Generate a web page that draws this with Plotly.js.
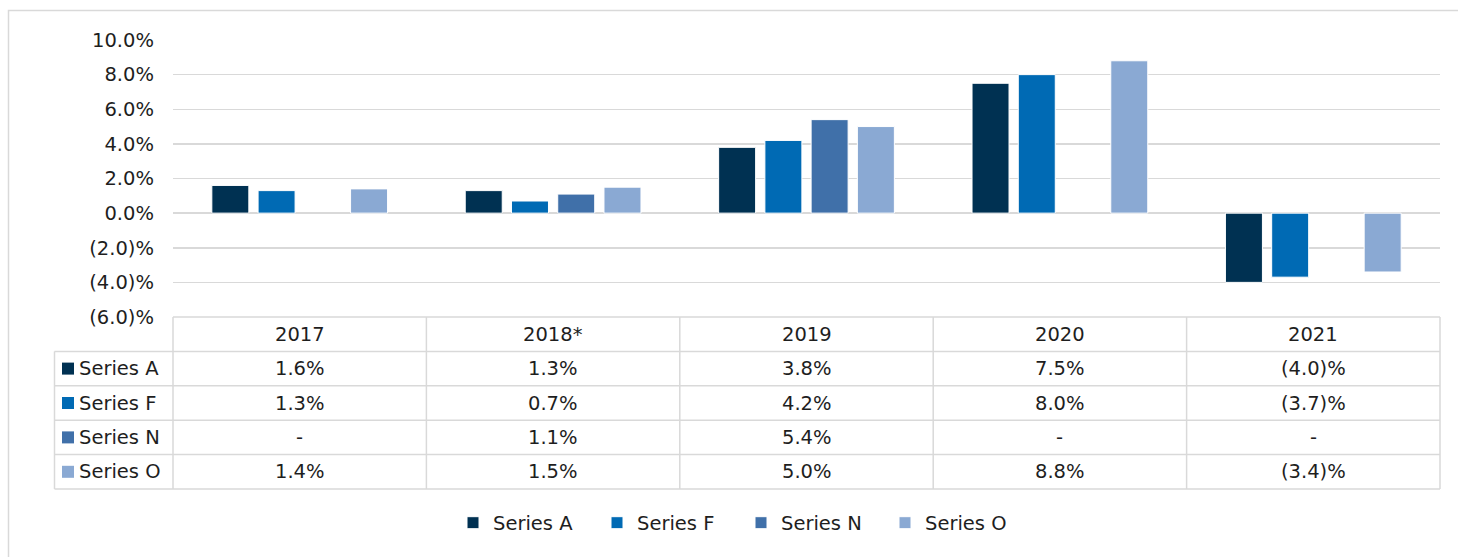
<!DOCTYPE html>
<html>
<head>
<meta charset="utf-8">
<script src="https://cdn.plot.ly/plotly-3.0.1.min.js"></script>
<style>html,body{margin:0;padding:0;background:#fff;}#chart{width:1458px;height:557px;}</style>
</head>
<body>
<div id="chart"></div>
<script>
// ---- data ----
var categories = ['2017', '2018*', '2019', '2020', '2021'];
var seriesNames = ['Series A', 'Series F', 'Series N', 'Series O'];
var seriesA = [1.6, 1.3, 3.8, 7.5, -4.0];
var seriesF = [1.3, 0.7, 4.2, 8.0, -3.7];
var seriesN = [null, 1.1, 5.4, null, null];
var seriesO = [1.4, 1.5, 5.0, 8.8, -3.4];
var yTickVals = [10, 8, 6, 4, 2, 0, -2, -4, -6];
var yTickText = ['10.0%', '8.0%', '6.0%', '4.0%', '2.0%', '0.0%', '(2.0)%', '(4.0)%', '(6.0)%'];

// ---- style ----
var colors = ['#003152', '#006AB4', '#4070A9', '#8AA9D3'];
var FONT = 'DejaVu Sans, sans-serif';
var FS = 19.5;
var TXT = '#1e1e1e';
var GRID = '#d9d9d9';

var allSeries = [seriesA, seriesF, seriesN, seriesO];

function fmt(v) {
  if (v === null || v === undefined) return '-';
  if (v < 0) return '(' + Math.abs(v).toFixed(1) + ')%';
  return v.toFixed(1) + '%';
}

// geometry helpers (pixel -> paper)
var W = 1458, H = 557;
var L = 173, R = 1440, T = 40, B = 317;
function px(x) { return (x - L) / (R - L); }
function py(y) { return (B - y) / (B - T); }

var traces = allSeries.map(function (vals, i) {
  return {
    type: 'bar',
    name: seriesNames[i],
    x: categories,
    y: vals,
    marker: { color: colors[i], line: { color: '#ffffff', width: 1 } },
    hoverinfo: 'skip'
  };
});

var shapes = [];
var annotations = [];

// outer border
shapes.push({ type: 'rect', xref: 'paper', yref: 'paper', x0: px(8.5), x1: px(1470), y0: py(10.5), y1: py(580),
  line: { color: GRID, width: 1.5 }, fillcolor: 'rgba(0,0,0,0)', layer: 'below' });

// data table grid
var rowH = 34.4;
var tableTop = 317;
var labelLeft = 54.5;
var nRows = allSeries.length;
var tableBottom = tableTop + rowH * (nRows + 1);
var colW = (R - L) / categories.length;
function hline(y, x0, x1) {
  shapes.push({ type: 'line', xref: 'paper', yref: 'paper', x0: px(x0), x1: px(x1), y0: py(y), y1: py(y),
    line: { color: GRID, width: 1.5 } });
}
function vline(x, y0, y1) {
  shapes.push({ type: 'line', xref: 'paper', yref: 'paper', x0: px(x), x1: px(x), y0: py(y0), y1: py(y1),
    line: { color: GRID, width: 1.5 } });
}
hline(tableTop, L, R);
for (var r = 1; r <= nRows + 1; r++) hline(tableTop + r * rowH, labelLeft, R);
vline(labelLeft, tableTop + rowH, tableBottom);
for (var c = 0; c <= categories.length; c++) vline(L + c * colW, tableTop, tableBottom);

// header row (x = category index on the category axis)
categories.forEach(function (cat, j) {
  annotations.push({ xref: 'x', yref: 'paper', x: j, y: py(tableTop + rowH / 2), text: cat,
    showarrow: false, xanchor: 'center', yanchor: 'middle', font: { family: FONT, size: FS, color: TXT } });
});
// value rows
allSeries.forEach(function (vals, i) {
  var yc = tableTop + rowH * (i + 1) + rowH / 2;
  shapes.push({ type: 'rect', xref: 'paper', yref: 'paper', x0: px(62), x1: px(74), y0: py(yc - 6), y1: py(yc + 6),
    fillcolor: colors[i], line: { width: 0 } });
  annotations.push({ xref: 'paper', yref: 'paper', x: px(77), y: py(yc), text: seriesNames[i],
    showarrow: false, xanchor: 'left', yanchor: 'middle', font: { family: FONT, size: FS, color: TXT } });
  categories.forEach(function (cat, j) {
    annotations.push({ xref: 'x', yref: 'paper', x: j, y: py(yc), text: fmt(vals[j]),
      showarrow: false, xanchor: 'center', yanchor: 'middle', font: { family: FONT, size: FS, color: TXT } });
  });
});

var layout = {
  width: W, height: H,
  margin: { l: L, r: W - R, t: T, b: H - B, pad: 0 },
  paper_bgcolor: '#ffffff', plot_bgcolor: '#ffffff',
  font: { family: FONT, size: FS, color: TXT },
  barmode: 'group',
  bargap: 0.27,
  bargroupgap: 0.2,
  showlegend: true,
  legend: { orientation: 'h', x: px(453), xanchor: 'left', y: py(523), yanchor: 'middle',
    font: { family: FONT, size: FS, color: TXT }, itemwidth: 30, traceorder: 'normal',
    entrywidth: 99, entrywidthmode: 'pixels' },
  xaxis: { type: 'category', range: [-0.5, categories.length - 0.5], autorange: false,
    showticklabels: false, showgrid: false, zeroline: false, showline: false, ticks: '' },
  yaxis: { range: [-6, 10], autorange: false, tickvals: yTickVals, ticktext: yTickText, showgrid: true, gridcolor: GRID, gridwidth: 1.5,
    zeroline: true, zerolinecolor: GRID, zerolinewidth: 1.5, showline: false, ticks: '', ticklabelstandoff: 18,
    tickfont: { family: FONT, size: FS, color: TXT } },
  shapes: shapes,
  annotations: annotations
};

Plotly.newPlot('chart', traces, layout, { displayModeBar: false, staticPlot: true });
</script>
</body>
</html>
